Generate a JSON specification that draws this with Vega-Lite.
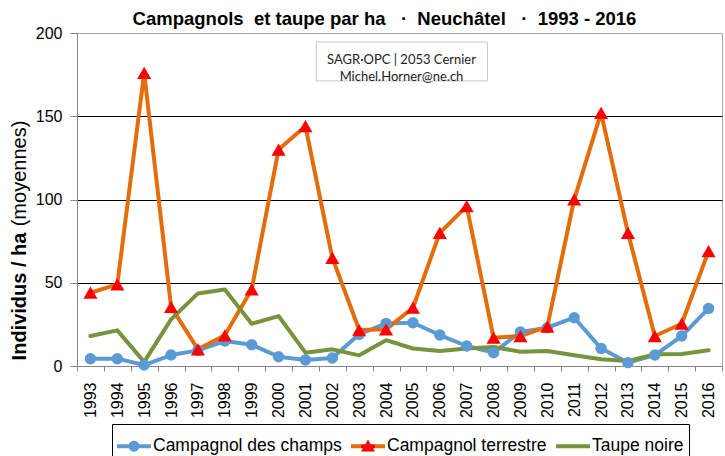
{
  "$schema": "https://vega.github.io/schema/vega-lite/v6.json",
  "width": 645,
  "height": 333,
  "autosize": {"type": "none"},
  "padding": {"left": 77, "top": 33, "right": 3, "bottom": 90},
  "background": "white",
  "title": {
    "text": "Campagnols\u00a0 et taupe par ha\u00a0\u00a0 ·\u00a0 Neuchâtel\u00a0\u00a0 ·\u00a0 1993 - 2016",
    "font": "Liberation Sans",
    "fontSize": 18.5,
    "fontWeight": "bold",
    "color": "#000",
    "anchor": "middle",
    "dx": -15,
    "offset": -3
  },
  "config": {
    "view": {"stroke": "#a6a6a6", "strokeWidth": 1},
    "font": "Liberation Sans"
  },
  "datasets": {
    "comptages": [
      {"Année": "1993", "Campagnol des champs": 4.4, "Campagnol terrestre": 44, "Taupe noire": 18},
      {"Année": "1994", "Campagnol des champs": 4.4, "Campagnol terrestre": 49, "Taupe noire": 21.4},
      {"Année": "1995", "Campagnol des champs": 0.6, "Campagnol terrestre": 176, "Taupe noire": 2.5},
      {"Année": "1996", "Campagnol des champs": 6.6, "Campagnol terrestre": 35.5, "Taupe noire": 28},
      {"Année": "1997", "Campagnol des champs": 9.4, "Campagnol terrestre": 10, "Taupe noire": 43.6},
      {"Année": "1998", "Campagnol des champs": 15, "Campagnol terrestre": 18.4, "Taupe noire": 46},
      {"Année": "1999", "Campagnol des champs": 12.8, "Campagnol terrestre": 46, "Taupe noire": 25.4},
      {"Année": "2000", "Campagnol des champs": 5.6, "Campagnol terrestre": 130, "Taupe noire": 30},
      {"Année": "2001", "Campagnol des champs": 3.6, "Campagnol terrestre": 144, "Taupe noire": 8},
      {"Année": "2002", "Campagnol des champs": 4.8, "Campagnol terrestre": 65, "Taupe noire": 10},
      {"Année": "2003", "Campagnol des champs": 19, "Campagnol terrestre": 21.6, "Taupe noire": 6.4},
      {"Année": "2004", "Campagnol des champs": 25.6, "Campagnol terrestre": 22, "Taupe noire": 15.5},
      {"Année": "2005", "Campagnol des champs": 26, "Campagnol terrestre": 35, "Taupe noire": 10.5},
      {"Année": "2006", "Campagnol des champs": 18.6, "Campagnol terrestre": 80, "Taupe noire": 9},
      {"Année": "2007", "Campagnol des champs": 12, "Campagnol terrestre": 96, "Taupe noire": 10.5},
      {"Année": "2008", "Campagnol des champs": 8, "Campagnol terrestre": 17, "Taupe noire": 11.4},
      {"Année": "2009", "Campagnol des champs": 20.4, "Campagnol terrestre": 18, "Taupe noire": 8.6},
      {"Année": "2010", "Campagnol des champs": 23, "Campagnol terrestre": 23.6, "Taupe noire": 9},
      {"Année": "2011", "Campagnol des champs": 29, "Campagnol terrestre": 100, "Taupe noire": 6.4},
      {"Année": "2012", "Campagnol des champs": 10.6, "Campagnol terrestre": 152, "Taupe noire": 4},
      {"Année": "2013", "Campagnol des champs": 2, "Campagnol terrestre": 80, "Taupe noire": 3},
      {"Année": "2014", "Campagnol des champs": 6.6, "Campagnol terrestre": 18, "Taupe noire": 7},
      {"Année": "2015", "Campagnol des champs": 18, "Campagnol terrestre": 25.4, "Taupe noire": 7.2},
      {"Année": "2016", "Campagnol des champs": 34.6, "Campagnol terrestre": 69, "Taupe noire": 9.4}
    ],
    "source": [
      {"texte": "SAGR·OPC | 2053 Cernier\nMichel.Horner@ne.ch"}
    ]
  },
  "resolve": {"scale": {"y": "independent"}},
  "layer": [
    {
      "data": {"name": "comptages"},
      "transform": [
        {"fold": ["Campagnol des champs", "Campagnol terrestre", "Taupe noire"], "as": ["Espèce", "Individus"]}
      ],
      "encoding": {
        "x": {
          "field": "Année",
          "type": "ordinal",
          "scale": {"type": "band", "paddingInner": 0, "paddingOuter": 0},
          "axis": {
            "title": null,
            "labelAngle": -90,
            "labelFont": "Liberation Sans",
            "labelFontSize": 16,
            "labelColor": "#000",
            "labelPadding": 11,
            "tickBand": "extent",
            "tickSize": 5,
            "tickColor": "#868686",
            "domainColor": "#868686",
            "grid": false
          }
        },
        "y": {
          "field": "Individus",
          "type": "quantitative",
          "scale": {"domain": [0, 200], "nice": false},
          "axis": {
            "orient": "left",
            "title": "Individus / ha",
            "titleFont": "Liberation Sans",
            "titleFontSize": 20,
            "titleFontWeight": "bold",
            "titleColor": "#000",
            "titleAngle": -90,
            "titleBaseline": "bottom",
            "titleAlign": "center",
            "titleX": -48,
            "titleY": 263,
            "values": [0, 50, 100, 150, 200],
            "labelFont": "Liberation Sans",
            "labelFontSize": 16,
            "labelColor": "#000",
            "labelPadding": 8,
            "tickSize": 7,
            "tickColor": "#868686",
            "domainColor": "#868686",
            "grid": true,
            "gridColor": {"condition": {"test": "datum.value === 0 || datum.value === 200", "value": "#a6a6a6"}, "value": "#000000"},
            "gridWidth": 1
          }
        }
      },
      "layer": [
        {
          "mark": {"type": "line", "strokeWidth": 4, "strokeJoin": "round", "strokeCap": "round"},
          "encoding": {
            "color": {
              "field": "Espèce",
              "type": "nominal",
              "scale": {
                "domain": ["Campagnol des champs", "Campagnol terrestre", "Taupe noire"],
                "range": ["#5B9BD5", "#E46C0A", "#77933C"]
              },
              "legend": {
                "title": null,
                "orient": "none",
                "legendX": 35,
                "legendY": 391,
                "direction": "horizontal",
                "strokeColor": "#000",
                "padding": 5,
                "labelFont": "Liberation Sans",
                "labelFontSize": 17.5,
                "labelColor": "#000",
                "labelLimit": 400,
                "labelOffset": 2,
                "columnPadding": 9,
                "symbolSize": 1156,
                "labelExpr": "datum.label === 'Taupe noire' ? 'Taupe noire\u2002\u2002\u2002' : datum.label",
                "encode": {
                  "symbols": {
                    "update": {
                      "shape": {"signal": "datum.value === 'Campagnol des champs' ? 'M-1,-0.12H1V0.12H-1Z M-0.32,0A0.32,0.32,0,1,1,0.32,0A0.32,0.32,0,1,1,-0.32,0Z' : datum.value === 'Campagnol terrestre' ? 'M-1,-0.12H1V0.12H-1Z M0,-0.4L0.41,0.31L-0.41,0.31Z' : 'M-1,-0.12H1V0.12H-1Z'"},
                      "fill": [
                        {"test": "datum.value === 'Campagnol terrestre'", "value": {"gradient": "linear", "x1": 0, "y1": 0, "x2": 1, "y2": 0, "stops": [{"offset": 0, "color": "#E46C0A"}, {"offset": 0.3, "color": "#E46C0A"}, {"offset": 0.3, "color": "#FF0000"}, {"offset": 0.7, "color": "#FF0000"}, {"offset": 0.7, "color": "#E46C0A"}, {"offset": 1, "color": "#E46C0A"}]}},
                        {"test": "datum.value === 'Campagnol des champs'", "value": "#5B9BD5"},
                        {"value": "#77933C"}
                      ],
                      "fillOpacity": {"value": 1},
                      "strokeWidth": {"value": 0},
                      "stroke": {"value": "transparent"}
                    }
                  }
                }
              }
            }
          }
        },
        {
          "transform": [{"filter": "datum['Espèce'] === 'Campagnol des champs'"}],
          "mark": {"type": "point", "shape": "circle", "filled": true, "size": 130, "color": "#5B9BD5", "opacity": 1}
        },
        {
          "transform": [{"filter": "datum['Espèce'] === 'Campagnol terrestre'"}],
          "mark": {"type": "point", "shape": "triangle-up", "filled": true, "size": 200, "color": "#FF0000", "opacity": 1}
        }
      ]
    },
    {
      "data": {"name": "source"},
      "encoding": {
        "y": {
          "datum": 183.5,
          "type": "quantitative",
          "scale": {"domain": [0, 200], "nice": false},
          "axis": {
            "orient": "left",
            "title": "(moyennes)",
            "titleFont": "Liberation Sans",
            "titleFontSize": 20,
            "titleFontWeight": "normal",
            "titleColor": "#000",
            "titleAngle": -90,
            "titleBaseline": "bottom",
            "titleAlign": "center",
            "titleX": -48,
            "titleY": 140,
            "labels": false,
            "ticks": false,
            "domain": false,
            "grid": false
          }
        }
      },
      "layer": [
        {
          "mark": {"type": "rect", "fill": "white", "stroke": "#c8c8c8", "strokeWidth": 1},
          "encoding": {
            "x": {"datum": "2001", "bandPosition": 0.9, "type": "ordinal"},
            "x2": {"datum": "2008", "bandPosition": 0.27},
            "y": {"datum": 194.6, "type": "quantitative"},
            "y2": {"datum": 171.2}
          }
        },
        {
          "mark": {"type": "text", "font": "Lato", "fontSize": 13, "color": "#222", "lineHeight": 17, "lineBreak": "\n", "align": "center", "baseline": "middle", "dx": 2},
          "encoding": {
            "x": {"datum": "2005", "bandPosition": 0, "type": "ordinal"},
            "text": {"field": "texte", "type": "nominal"}
          }
        }
      ]
    }
  ]
}
